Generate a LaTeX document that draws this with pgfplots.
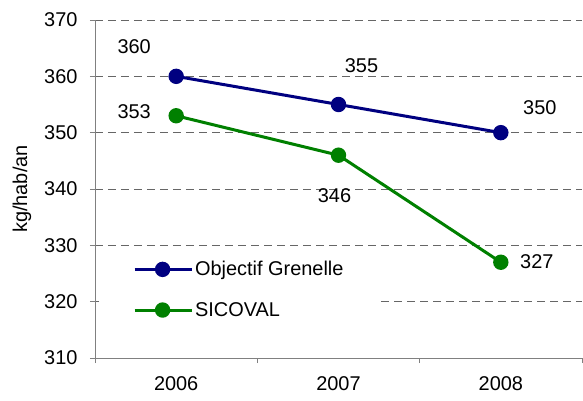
\documentclass[border=0pt]{standalone}
\usepackage{fontspec}
\setmainfont{Liberation Sans}
\usepackage{pgfplots}
\pgfplotsset{compat=1.18}
\definecolor{navyb}{RGB}{0,0,128}
\definecolor{greenb}{RGB}{0,128,0}
\definecolor{axgray}{RGB}{128,128,128}
\begin{document}
\begin{tikzpicture}
\path[use as bounding box] (-95bp,-43bp) rectangle (488bp,358bp);
\begin{axis}[
  at={(0,0)}, anchor=south west,
  scale only axis, width=487bp, height=338bp,
  xmin=-0.5, xmax=2.5, ymin=310, ymax=370,
  ytick={310,320,...,370},
  xtick={-0.5,0.5,1.5,2.5}, xticklabels={},
  extra x ticks={0,1,2}, extra x tick labels={2006,2007,2008},
  extra x tick style={major tick length=0pt, grid=none},
  axis lines*=left,
  axis line style={axgray, line width=0.8bp},
  tick style={axgray, line width=0.8bp},
  tick align=outside, major tick length=5bp,
  ymajorgrids, grid style={dash pattern=on 8bp off 5bp, color=black!60, line width=0.8bp},
  /pgf/number format/assume math mode=true,
  /pgf/number format/1000 sep={},
  tick label style={font=\fontsize{20}{24}\selectfont},
  yticklabel style={xshift=-9bp},
  xticklabel style={yshift=-15bp},
  ylabel={kg/hab/an},
  every axis y label/.style={at={(axis description cs:0,0.5)}, xshift=-73bp, rotate=90, anchor=center, font=\fontsize{20}{24}\selectfont},
  legend style={at={(axis description cs:0.008,0.31)}, anchor=north west, fill=white, draw=none,
    font=\fontsize{20}{24}\selectfont, inner xsep=34bp, inner ysep=6bp, row sep=21bp},
  legend cell align=left,
  legend image code/.code={\draw[mark repeat=2,mark phase=2] plot coordinates {(0bp,0bp)(28bp,0bp)(57bp,0bp)};},
  clip=false,
]
\addplot[navyb, line width=3bp, mark=*, mark size=6.2pt, mark options={solid}] coordinates {(0,360) (1,355) (2,350)};
\addlegendentry{Objectif Grenelle}
\addplot[greenb, line width=3bp, mark=*, mark size=6.2pt, mark options={solid}] coordinates {(0,353) (1,346) (2,327)};
\addlegendentry{SICOVAL}
\begin{scope}[every node/.style={font=\fontsize{20}{24}\selectfont, anchor=center}]
\node[xshift=-42bp, yshift=30bp] at (axis cs:0,360) {360};
\node[xshift=23bp, yshift=39bp] at (axis cs:1,355) {355};
\node[xshift=39bp, yshift=25bp] at (axis cs:2,350) {350};
\node[xshift=-42bp, yshift=4bp] at (axis cs:0,353) {353};
\node[xshift=-4bp, yshift=-40bp] at (axis cs:1,346) {346};
\node[xshift=36bp, yshift=1bp] at (axis cs:2,327) {327};
\end{scope}
\end{axis}
\end{tikzpicture}
\end{document}
